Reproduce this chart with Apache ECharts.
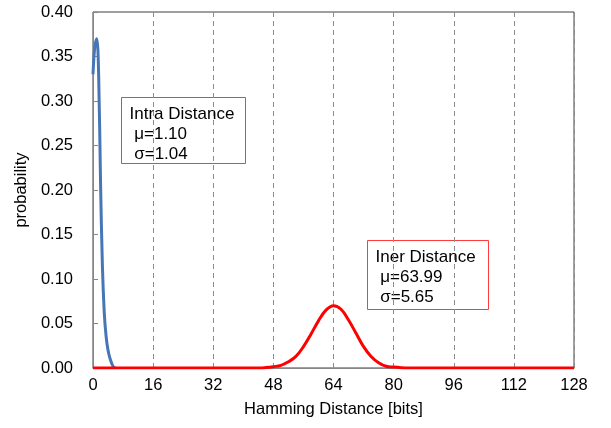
<!DOCTYPE html>
<html>
<head>
<meta charset="utf-8">
<script src="https://cdn.jsdelivr.net/npm/echarts@6/dist/echarts.min.js"></script>
<style>
  html, body { margin: 0; padding: 0; background: #fff; }
  #main { width: 611px; height: 428px; }
</style>
</head>
<body>
<div id="main"></div>
<script>
// values
var xTicks = [0, 16, 32, 48, 64, 80, 96, 112, 128];
var intraX = [0, 0.5, 1, 1.5, 2, 2.5, 3, 3.5, 4, 4.5, 5, 5.5, 6];
var intraY = [0.33, 0.362, 0.37, 0.33, 0.21, 0.115, 0.062, 0.035, 0.02, 0.011, 0.005, 0.001, 0];
var interX = [0, 44, 46, 48, 50, 52, 54, 56, 58, 60, 62, 64, 66, 68, 70, 72, 74, 76, 78, 80, 82, 84, 128];
var interY = [0, 0, 0.0005, 0.0015, 0.003, 0.007, 0.013, 0.024, 0.038, 0.053, 0.065, 0.070, 0.066, 0.054, 0.039, 0.024, 0.013, 0.006, 0.002, 0.001, 0.0003, 0, 0];

var intraNote = ['Intra Distance', ' \u03bc=1.10', ' \u03c3=1.04'];
var interNote = ['Iner Distance', ' \u03bc=63.99', ' \u03c3=5.65'];

function pairs(xs, ys) {
    return xs.map(function(x, i) { return [x, ys[i]]; });
}

var font = '"Liberation Sans", Arial, sans-serif';
var chart = echarts.init(document.getElementById('main'));

function noteBox(x, y, w, h, color, lines) {
    return {
        type: 'group',
        left: x,
        top: y,
        children: [{
            type: 'rect',
            shape: { x: 0, y: 0, width: w, height: h },
            style: { fill: '#fff', stroke: color, lineWidth: 1 }
        }, {
            type: 'text',
            left: 8,
            top: 7,
            style: {
                text: lines.join('\n'),
                font: '17px ' + font,
                fill: '#000',
                lineHeight: 20
            }
        }]
    };
}

chart.setOption({
    animation: false,
    grid: {
        left: 93, right: 37, top: 12, bottom: 60,
        show: true, borderColor: '#404040', borderWidth: 1,
        containLabel: false
    },
    xAxis: {
        type: 'value',
        min: 0, max: 128, interval: 16,
        name: 'Hamming Distance [bits]',
        nameLocation: 'middle',
        nameGap: 33,
        nameTextStyle: { fontFamily: font, fontSize: 16.5, color: '#000' },
        axisLine: { show: true, lineStyle: { color: '#868686' } },
        axisTick: { show: false },
        axisLabel: { fontFamily: font, fontSize: 16.5, color: '#000', margin: 9 },
        splitLine: { show: true, lineStyle: { color: '#8c8c8c', type: [5, 4], width: 1 } }
    },
    yAxis: {
        type: 'value',
        min: 0, max: 0.4, interval: 0.05,
        name: 'probability',
        nameLocation: 'middle',
        nameGap: 62,
        nameRotate: 90,
        nameTextStyle: { fontFamily: font, fontSize: 16.5, color: '#000' },
        axisLine: { show: true, lineStyle: { color: '#868686' } },
        axisTick: { show: true, inside: true, length: 5, lineStyle: { color: '#868686' } },
        axisLabel: {
            fontFamily: font, fontSize: 16.5, color: '#000', margin: 20,
            formatter: function(v) { return v.toFixed(2); }
        },
        splitLine: { show: false }
    },
    series: [{
        type: 'line',
        data: pairs(intraX, intraY),
        smooth: 0.35,
        showSymbol: false,
        lineStyle: { color: '#4676b6', width: 3 },
        z: 2
    }, {
        type: 'line',
        data: pairs(interX, interY),
        smooth: 0.4,
        showSymbol: false,
        lineStyle: { color: '#ff0000', width: 3 },
        z: 3
    }],
    graphic: [
        noteBox(121, 97, 124, 66, '#4a7ebb', intraNote),
        noteBox(367, 240, 121, 69, '#ff3b3b', interNote)
    ]
});
</script>
</body>
</html>
